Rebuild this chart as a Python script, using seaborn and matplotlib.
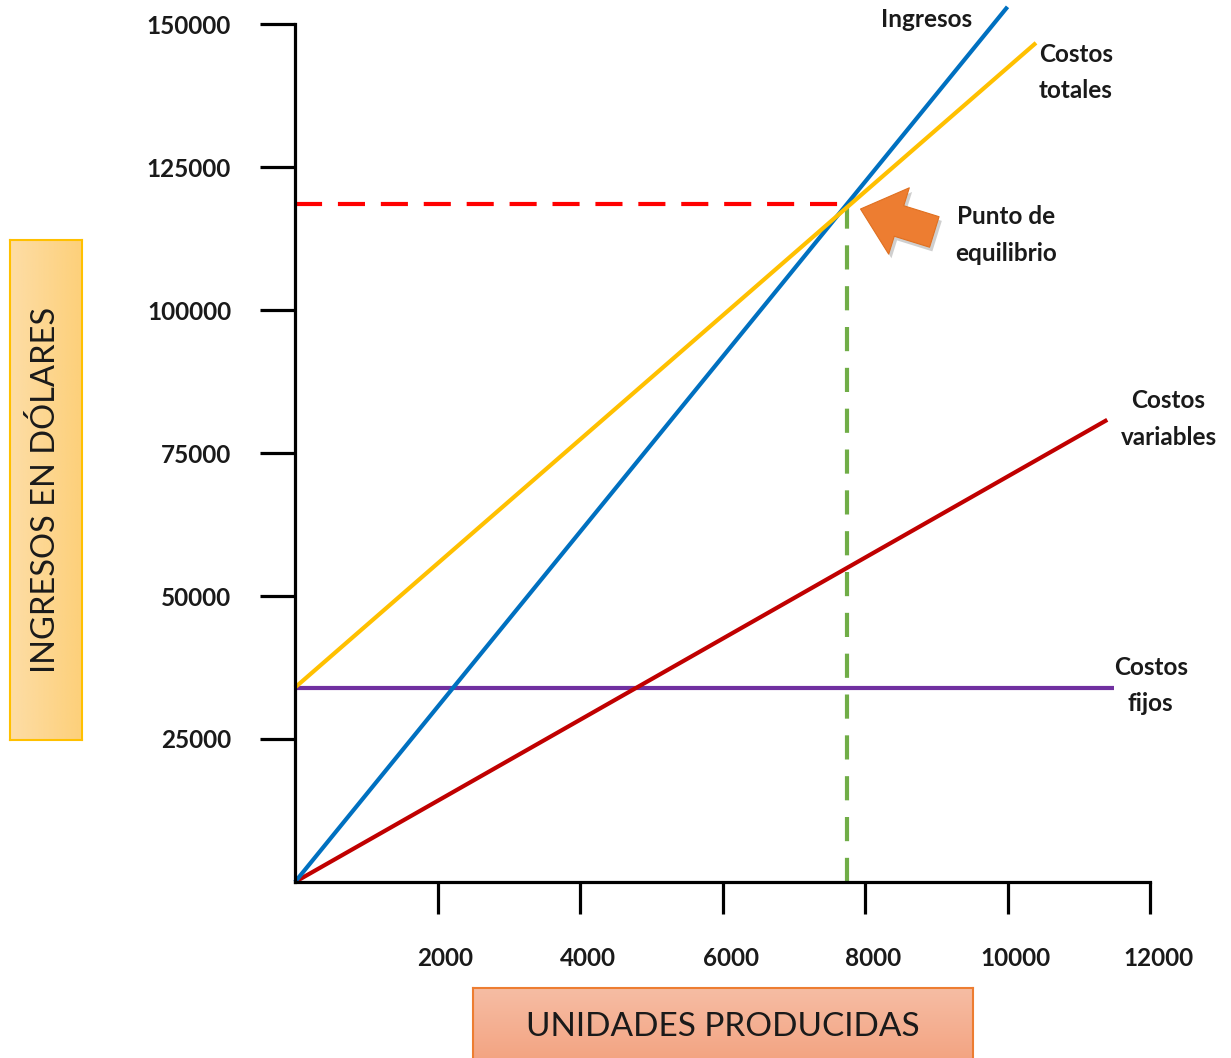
import numpy as np
import pandas as pd
import matplotlib
matplotlib.use("Agg")
import matplotlib.pyplot as plt
import matplotlib.patches as mpatches
import matplotlib.patheffects as pe
from matplotlib.transforms import ScaledTranslation
import seaborn as sns

# ---- data -------------------------------------------------------------
series = ["Costos fijos", "Costos variables", "Ingresos", "Costos totales"]
unidades_inicio = [0, 0, 0, 0]
unidades_fin = [11500, 11400, 10000, 10400]
dolares_inicio = [34000, 0, 0, 34000]
dolares_fin = [34000, 80800, 153000, 146700]
colores = ["#7030A0", "#C00000", "#0070C0", "#FFC000"]

equilibrio_unidades = 7750
equilibrio_dolares = 118500

x_ticks = [2000, 4000, 6000, 8000, 10000, 12000]
y_ticks = [25000, 50000, 75000, 100000, 125000, 150000]

etiquetas = ["Ingresos", "Costos\ntotales", "Punto de\nequilibrio",
             "Costos\nvariables", "Costos\nfijos"]
etiqueta_pos = [(8870, 150800), (10960, 141500), (9980, 113100),
                (12260, 80950), (12010, 34400)]

titulo_x = "UNIDADES PRODUCIDAS"
titulo_y = "INGRESOS EN DÓLARES"

# ---- long-form table --------------------------------------------------
df = pd.DataFrame({
    "serie": np.repeat(series, 2),
    "unidades": np.ravel(np.column_stack([unidades_inicio, unidades_fin])),
    "dolares": np.ravel(np.column_stack([dolares_inicio, dolares_fin])),
})

sns.set_theme(style="white")
plt.rcParams["font.family"] = ["Lato", "DejaVu Sans"]

W, H = 1231, 1058
fig = plt.figure(figsize=(W / 100, H / 100), dpi=100)
fig.patch.set_facecolor("white")

# axes fill the figure; limits place the origin at (295, 882) px
ax = fig.add_axes([0, 0, 1, 1])
ax.set_facecolor("none")
px_per_x = 855 / 12000
px_per_y = 858 / 150000
ax.set_xlim(-295 / px_per_x, (W - 295) / px_per_x)
ax.set_ylim(-(H - 882) / px_per_y, 882 / px_per_y)

# break-even guides
ax.plot([0, equilibrio_unidades], [equilibrio_dolares, equilibrio_dolares],
        color="#FF0000", lw=3, dashes=(6.5, 3.8), zorder=1)
ax.plot([equilibrio_unidades, equilibrio_unidades], [0, equilibrio_dolares],
        color="#70AD47", lw=3, dashes=(5.8, 4.0), zorder=1)

sns.lineplot(data=df, x="unidades", y="dolares", hue="serie",
             hue_order=series, palette=colores, estimator=None, sort=False,
             units="serie", legend=False, linewidth=3, ax=ax, zorder=2)
for ln in ax.get_lines():
    ln.set_solid_capstyle("butt")

# axis spines as a cross at the origin
for s in ["top", "right"]:
    ax.spines[s].set_visible(False)
ax.spines["left"].set_position(("data", 0))
ax.spines["bottom"].set_position(("data", 0))
ax.spines["left"].set_bounds(0, 150000)
ax.spines["bottom"].set_bounds(0, 12000)
for s in ["left", "bottom"]:
    ax.spines[s].set_linewidth(2.3)
    ax.spines[s].set_color("black")
    ax.spines[s].set_zorder(3)

ax.set_xticks(x_ticks)
ax.set_yticks(y_ticks)
ax.set_xticklabels([str(v) for v in x_ticks])
ax.set_yticklabels([str(v) for v in y_ticks])
ax.tick_params(axis="x", direction="out", length=23, width=2.3,
               color="black", pad=24, labelsize=17.5, bottom=True)
ax.tick_params(axis="y", direction="out", length=25, width=2.3,
               color="black", pad=21, labelsize=17.5, left=True)
for lbl in ax.get_xticklabels() + ax.get_yticklabels():
    lbl.set_fontweight("bold")
    lbl.set_color("#1a1a1a")
shift = ScaledTranslation(8 / 100, 0, fig.dpi_scale_trans)
for lbl in ax.get_xticklabels():
    lbl.set_transform(lbl.get_transform() + shift)
ax.set_xlabel("")
ax.set_ylabel("")
ax.grid(False)

# series annotations
for txt, (tx, ty) in zip(etiquetas, etiqueta_pos):
    ax.text(tx, ty, txt, ha="center", va="center", fontsize=17.5,
            fontweight="bold", color="#1a1a1a", linespacing=1.7, zorder=4)

# block arrow pointing at the break-even point
flecha = mpatches.FancyArrowPatch(
    (9010, 113500), (7900, 117800),
    arrowstyle="simple,head_width=2.5,head_length=1.45,tail_width=1.15",
    mutation_scale=20, facecolor="#ED7D31", edgecolor="#E07020", lw=0.8,
    zorder=5,
    path_effects=[pe.SimplePatchShadow(offset=(2, -3), shadow_rgbFace="#777777",
                                       alpha=0.35), pe.Normal()])
ax.add_patch(flecha)


# gradient-filled title boxes
def caja(x0, y0, w, h, c1, c2, borde, vertical):
    bx = fig.add_axes([x0 / W, 1 - (y0 + h) / H, w / W, h / H])
    t = np.linspace(0, 1, 256)
    if vertical:
        grad = t[:, None] * np.ones((1, 2))
    else:
        grad = np.ones((2, 1)) * t[None, :]
    c1 = np.array(matplotlib.colors.to_rgb(c1))
    c2 = np.array(matplotlib.colors.to_rgb(c2))
    img = c1[None, None, :] * (1 - grad[..., None]) + c2[None, None, :] * grad[..., None]
    bx.imshow(img, aspect="auto", extent=[0, 1, 0, 1], origin="upper")
    bx.set_xticks([])
    bx.set_yticks([])
    for s in bx.spines.values():
        s.set_color(borde)
        s.set_linewidth(1.5)
        s.set_visible(True)
    return bx


by = caja(10, 240, 72, 500, "#FDDDA6", "#FDD07A", "#FFC000", vertical=False)
by.text(0.5, 0.5, titulo_y, rotation=90, ha="center", va="center",
        fontsize=23.5, color="#1a1a1a", transform=by.transAxes)

bxx = caja(473, 988, 500, 80, "#F6BDA4", "#F3A17E", "#ED7D31", vertical=True)
bxx.text(0.5, 0.5 + 1 / 80, titulo_x, ha="center", va="center",
         fontsize=24, color="#1a1a1a", transform=bxx.transAxes)

fig.savefig("out.png", dpi=100)
